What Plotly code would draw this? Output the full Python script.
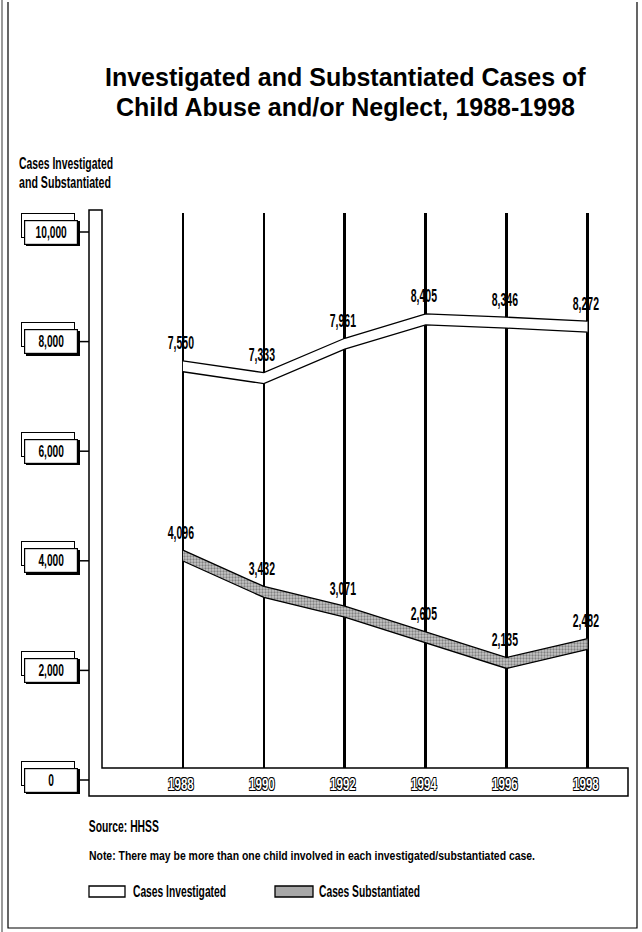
import numpy as np
import plotly.graph_objects as go

# ---- data -------------------------------------------------------------
years = [1988, 1990, 1992, 1994, 1996, 1998]
investigated = [7550, 7333, 7961, 8405, 8346, 8272]
substantiated = [4096, 3432, 3071, 2605, 2135, 2482]
y_ticks = [0, 2000, 4000, 6000, 8000, 10000]

title_lines = ["Investigated and Substantiated Cases of",
               "Child Abuse and/or Neglect, 1988-1998"]
y_title_lines = ["Cases Investigated", "and Substantiated"]
source_text = "Source: HHSS"
note_text = "Note: There may be more than one child involved in each investigated/substantiated case."
legend_names = ["Cases Investigated", "Cases Substantiated"]

# ---- page geometry ----------------------------------------------------
W_FIG, H_FIG = 642, 932
L, R, T, B = 102, 628, 213, 796          # plot area in pixels
PW, PH = R - L, B - T

def px(x):
    return (x - L) / PW

def py(y):
    return (B - y) / PH

# condensed look: regular bold face, squeezed horizontally after drawing
COND = "Liberation Sans Narrow, Liberation Sans, Arial, sans-serif"
SANS = "Liberation Sans, Arial, Helvetica, sans-serif"
SQUEEZE = 0.6
HALF = 100  # half thickness of the ribbons, in data units

fig = go.Figure()

def ribbon(values, fill, pattern=None):
    v = np.asarray(values, dtype=float)
    fig.add_trace(go.Scatter(x=years, y=v - HALF, mode="lines",
                             line=dict(color="black", width=1.3),
                             hoverinfo="skip", showlegend=False))
    kw = dict(fill="tonexty", fillcolor=fill)
    if pattern:
        kw["fillpattern"] = pattern
    fig.add_trace(go.Scatter(x=years, y=v + HALF, mode="lines",
                             line=dict(color="black", width=1.3),
                             hoverinfo="skip", showlegend=False, **kw))

ribbon(investigated, "white")
ribbon(substantiated, "#bcbcbc",
       dict(shape=".", bgcolor="#c6c6c6", fgcolor="#3c3c3c", size=3, solidity=0.45))

annotations = []
squeeze = []      # horizontal factor per annotation (None = untouched)
fit_width = []    # exact target width per annotation (None = use factor)

def add_ann(k=None, w=None, **kw):
    annotations.append(kw)
    squeeze.append(k)
    fit_width.append(w)

def cfont(size, color="black", **extra):
    return dict(family=COND, size=size, color=color, weight=700, **extra)

# value labels above each ribbon
for series in (investigated, substantiated):
    for yr, v in zip(years, series):
        add_ann(k=SQUEEZE, x=yr, y=v, xref="x", yref="y", text=f"{v:,}",
                showarrow=False, yshift=23, xshift=-2, font=cfont(17.5))

# boxed y tick labels (back box, dark edge, front box)
for v in y_ticks:
    common = dict(x=px(51), y=v, xref="paper", yref="y", showarrow=False,
                  xanchor="center", yanchor="middle", width=50, height=21)
    add_ann(text="", xshift=-3, yshift=7, bgcolor="white",
            bordercolor="black", borderwidth=1, **common)
    add_ann(text="", xshift=1.5, yshift=-1.5, bgcolor="black",
            bordercolor="black", borderwidth=1, **common)
    add_ann(k=SQUEEZE, text=f"{v:,}", bgcolor="white", bordercolor="black",
            borderwidth=1.2, font=cfont(17), **common)

# year labels inside the base strip (outlined digits)
outline = "-1px -1px 0 #000, 1px -1px 0 #000, -1px 1px 0 #000, 1px 1px 0 #000"
for yr in years:
    add_ann(k=0.68, x=yr, y=py(784), xref="x", yref="paper", text=f"{yr}",
            showarrow=False, xshift=-2, xanchor="center", yanchor="middle",
            font=cfont(17, color="white", shadow=outline))

# title
for i, line in enumerate(title_lines):
    add_ann(x=px(345), y=py(77 + 30 * i), xref="paper", yref="paper",
            text=f"<b>{line}</b>", showarrow=False, xanchor="center", yanchor="middle",
            font=dict(family=SANS, size=25, color="black"))

def fitted(text, left, width, ycen, size=16):
    """Condensed text laid out from its left edge over a given width."""
    add_ann(w=width, x=px(left + width / 2), y=py(ycen), xref="paper", yref="paper",
            text=text, showarrow=False, xanchor="center", yanchor="middle",
            width=width + 4, font=cfont(size))

# y axis title (left edge at x=19)
fitted(y_title_lines[0], 19, 94, 163)
fitted(y_title_lines[1], 19, 92, 182)

# source and note
fitted(source_text, 89, 70, 826)
fitted(note_text, 89, 446, 856, size=12.5)

# manual legend texts
fitted(legend_names[0], 133, 93, 891)
fitted(legend_names[1], 319, 101, 891)

shapes = []

# base strip covering the bottom of the grid lines, then the L-shaped frame
shapes.append(dict(type="rect", xref="paper", yref="paper",
                   x0=px(89), x1=px(628), y0=py(796), y1=py(768),
                   fillcolor="white", line=dict(width=0), layer="above"))
frame = (f"M {px(89)} {py(210)} L {px(102)} {py(210)} L {px(102)} {py(768)} "
         f"L {px(628)} {py(768)} L {px(628)} {py(796)} L {px(89)} {py(796)} Z")
shapes.append(dict(type="path", xref="paper", yref="paper", path=frame,
                   line=dict(color="black", width=1.5), layer="above"))

# connectors from tick boxes to the axis bar
for v in y_ticks:
    shapes.append(dict(type="line", xref="paper", yref="y",
                       x0=px(78), x1=px(89), y0=v, y1=v,
                       line=dict(color="black", width=1.5)))

# legend swatches
shapes.append(dict(type="rect", xref="paper", yref="paper",
                   x0=px(89), x1=px(125), y0=py(897), y1=py(886),
                   fillcolor="white", line=dict(color="black", width=1.3)))
shapes.append(dict(type="rect", xref="paper", yref="paper",
                   x0=px(275), x1=px(313), y0=py(897), y1=py(886),
                   fillcolor="#a8a8a8", line=dict(color="black", width=1.3)))

# page border and the grey paper edge at far left
border = (f"M {px(8)} {py(2)} L {px(8)} {py(928)} L {px(637)} {py(928)} L {px(637)} {py(2)}")
shapes.append(dict(type="path", xref="paper", yref="paper", path=border,
                   line=dict(color="black", width=1.2)))
shapes.append(dict(type="line", xref="paper", yref="paper",
                   x0=px(2), x1=px(2), y0=py(0), y1=py(932),
                   line=dict(color="#9a9a9a", width=2)))

y_lo = -16 * 10000 / 548
y_hi = 10000 + 19 * 10000 / 548

fig.update_layout(
    width=W_FIG, height=H_FIG,
    margin=dict(l=L, r=W_FIG - R, t=T, b=H_FIG - B, pad=0),
    paper_bgcolor="white", plot_bgcolor="white",
    showlegend=False,
    xaxis=dict(range=[1986, 1999], tickvals=years, showticklabels=False,
               showgrid=True, gridcolor="black", gridwidth=2.6,
               zeroline=False, showline=False, ticks="", fixedrange=True),
    yaxis=dict(range=[y_lo, y_hi], showgrid=False, showticklabels=False,
               zeroline=False, showline=False, ticks="", fixedrange=True),
    annotations=annotations,
    shapes=shapes,
    meta=dict(squeeze=squeeze, fit=fit_width),
)

# narrow the condensed labels once the figure is drawn
post = """
var gd = document.getElementById('{plot_id}');
var ks = gd.layout.meta.squeeze, ws = gd.layout.meta.fit;
gd.querySelectorAll('g.annotation').forEach(function (g) {
  var i = +g.getAttribute('data-index');
  var t = g.querySelector('text.annotation-text');
  if (!t || !t.textContent) return;
  var len = null;
  if (ws[i]) { len = ws[i]; }
  else if (ks[i]) { len = t.getComputedTextLength() * ks[i]; }
  if (len) {
    t.setAttribute('textLength', len.toFixed(2));
    t.setAttribute('lengthAdjust', 'spacingAndGlyphs');
  }
});
"""

fig.write_html("out.html", post_script=post, config={"staticPlot": True})
